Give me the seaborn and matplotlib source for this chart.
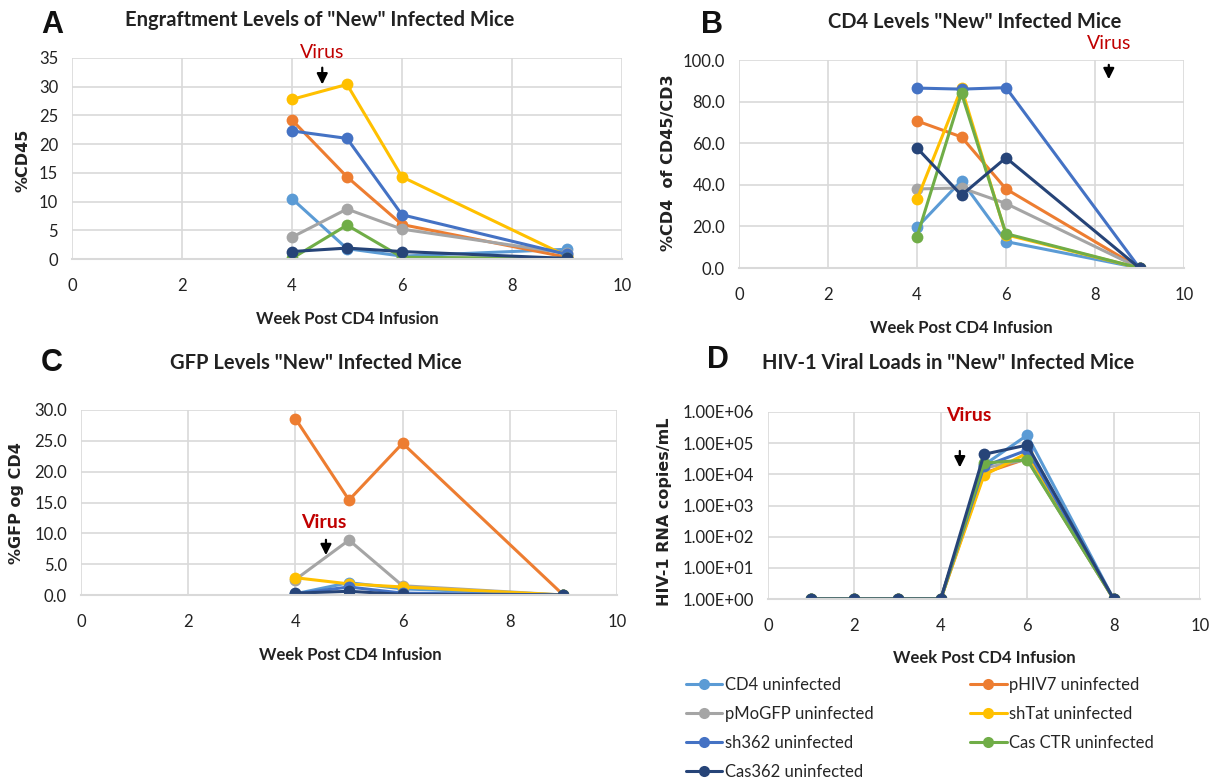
import numpy as np
import pandas as pd
import matplotlib
matplotlib.use("Agg")
import matplotlib.pyplot as plt
import seaborn as sns
from matplotlib.ticker import FuncFormatter, MultipleLocator, NullLocator
from matplotlib.lines import Line2D

sns.set_theme(style="white")
plt.rcParams["font.family"] = ["Lato", "DejaVu Sans"]

groups = ["CD4 uninfected", "pHIV7 uninfected", "pMoGFP uninfected", "shTat uninfected",
          "sh362 uninfected", "Cas CTR uninfected", "Cas362 uninfected"]
colors = ["#5B9BD5", "#ED7D31", "#A5A5A5", "#FFC000", "#4472C4", "#70AD47", "#264478"]

weeks = [4, 5, 6, 9]
cd45 = {
    "CD4 uninfected": [10.5, 1.8, 0.5, 1.7],
    "pHIV7 uninfected": [24.2, 14.3, 6.0, 0.3],
    "pMoGFP uninfected": [3.8, 8.7, 5.2, 1.0],
    "shTat uninfected": [27.8, 30.4, 14.3, 0.5],
    "sh362 uninfected": [22.3, 21.0, 7.7, 0.8],
    "Cas CTR uninfected": [0.1, 5.9, 0.3, 0.1],
    "Cas362 uninfected": [1.3, 1.9, 1.3, 0.1],
}
cd4 = {
    "CD4 uninfected": [19.5, 42.0, 12.7, 0.0],
    "pHIV7 uninfected": [70.7, 63.0, 38.0, 0.0],
    "pMoGFP uninfected": [38.0, 38.5, 31.0, 0.0],
    "shTat uninfected": [33.0, 86.5, 16.0, 0.0],
    "sh362 uninfected": [86.5, 86.0, 86.7, 0.0],
    "Cas CTR uninfected": [15.0, 84.0, 16.5, 0.0],
    "Cas362 uninfected": [57.7, 35.0, 53.0, 0.0],
}
gfp = {
    "CD4 uninfected": [0.2, 2.0, 1.0, 0.0],
    "pHIV7 uninfected": [28.6, 15.4, 24.6, 0.0],
    "pMoGFP uninfected": [2.5, 8.9, 1.5, 0.0],
    "shTat uninfected": [2.8, 1.8, 1.3, 0.0],
    "sh362 uninfected": [0.2, 1.3, 0.3, 0.0],
    "Cas CTR uninfected": [0.0, 0.0, 0.0, 0.0],
    "Cas362 uninfected": [0.3, 0.6, 0.1, 0.0],
}
vl_weeks = [1, 2, 3, 4, 5, 6, 8]
viral = {
    "CD4 uninfected": [1, 1, 1, 1, 2.0e4, 1.8e5, 1],
    "pHIV7 uninfected": [1, 1, 1, 1, 1.1e4, 3.2e4, 1],
    "pMoGFP uninfected": [1, 1, 1, 1, 1.6e4, 3.0e4, 1],
    "shTat uninfected": [1, 1, 1, 1, 9.4e3, 4.8e4, 1],
    "sh362 uninfected": [1, 1, 1, 1, 1.8e4, 6.0e4, 1],
    "Cas CTR uninfected": [1, 1, 1, 1, 2.3e4, 2.9e4, 1],
    "Cas362 uninfected": [1, 1, 1, 1, 4.4e4, 8.7e4, 1],
}


def to_long(d, x):
    rows = []
    for g in groups:
        for xi, yi in zip(x, d[g]):
            rows.append({"week": xi, "value": yi, "group": g})
    return pd.DataFrame(rows)


W, H = 1212, 778
fig = plt.figure(figsize=(W / 100, H / 100), dpi=100)
palette = dict(zip(groups, colors))
cond = ["Lato", "DejaVu Sans"]


def box(l, t, r, b):
    return [l / W, 1 - b / H, (r - l) / W, (b - t) / H]


def style(ax):
    ax.set_xlim(0, 10)
    ax.xaxis.set_major_locator(MultipleLocator(2))
    ax.grid(True, color="#D9D9D9", lw=1.2)
    for s in ["top", "right", "left"]:
        ax.spines[s].set_visible(False)
    ax.spines["bottom"].set_color("#D9D9D9")
    ax.spines["bottom"].set_linewidth(1.5)
    ax.tick_params(axis="both", length=0, labelsize=12, colors="#222222")
    ax.tick_params(axis="x", pad=14)
    ax.tick_params(axis="y", pad=10)
    ax.set_xlabel("")
    ax.set_ylabel("")


def draw(ax, d, x):
    sns.lineplot(data=to_long(d, x), x="week", y="value", hue="group", hue_order=groups,
                 palette=palette, marker="o", markersize=8.5, markeredgewidth=0,
                 linewidth=2.2, ax=ax, legend=False, sort=False)


def virus(ax, tx, ty, ax0, ay0, ay1, bold=False):
    ax.text(tx, ty, "Virus", color="#C00000", fontsize=14, ha="center", va="center",
            fontweight="bold" if bold else "normal", clip_on=False)
    ax.annotate("", xy=(ax0, ay1), xytext=(ax0, ay0),
                arrowprops=dict(arrowstyle="-|>", color="black", lw=1.6, mutation_scale=16),
                annotation_clip=False)


# Panel A
axA = fig.add_axes(box(72, 58, 622, 259))
draw(axA, cd45, weeks)
style(axA)
axA.set_ylim(0, 35)
axA.yaxis.set_major_locator(MultipleLocator(5))
virus(axA, 4.55, 35.9, 4.55, 33.8, 29.9)

# Panel B
axB = fig.add_axes(box(739, 60, 1184, 268))
draw(axB, cd4, weeks)
style(axB)
axB.set_ylim(0, 100)
axB.yaxis.set_major_locator(MultipleLocator(20))
axB.yaxis.set_major_formatter(FuncFormatter(lambda v, p: f"{v:.1f}"))
virus(axB, 8.31, 108, 8.31, 99, 89.4)

# Panel C
axC = fig.add_axes(box(81, 410, 617, 595))
draw(axC, gfp, weeks)
style(axC)
axC.set_ylim(0, 30)
axC.yaxis.set_major_locator(MultipleLocator(5))
axC.yaxis.set_major_formatter(FuncFormatter(lambda v, p: f"{v:.1f}"))
virus(axC, 4.53, 11.8, 4.57, 9.4, 6.0, bold=True)

# Panel D
axD = fig.add_axes(box(768, 412, 1200, 599))
draw(axD, viral, vl_weeks)
axD.set_yscale("log")
style(axD)
axD.set_ylim(1, 1e6)
axD.set_yticks([10 ** k for k in range(7)])
axD.yaxis.set_minor_locator(NullLocator())
axD.yaxis.set_major_formatter(FuncFormatter(lambda v, p: f"{v:.2E}"))
virus(axD, 4.65, 7.9e5, 4.44, 6.9e4, 1.35e4, bold=True)

# titles, panel letters, axis labels
for txt, x, y in [('Engraftment Levels of "New" Infected Mice', 320, 20),
                  ('CD4 Levels "New" Infected Mice', 975, 22),
                  ('GFP Levels "New" Infected Mice', 316, 363),
                  ('HIV-1 Viral Loads in "New" Infected Mice', 948, 363)]:
    fig.text(x / W, 1 - y / H, txt, ha="center", va="center", fontsize=14.5,
             fontweight="bold", family=cond, color="#222222")
for txt, x, y in [("A", 52, 25), ("B", 712, 25), ("C", 52, 363), ("D", 718, 360)]:
    fig.text(x / W, 1 - y / H, txt, ha="center", va="center", fontsize=22,
             fontweight="bold", family=["Liberation Sans", "DejaVu Sans"], color="#111111")
for x, y in [(347, 319), (961, 328), (350, 655), (984, 658)]:
    fig.text(x / W, 1 - y / H, "Week Post CD4 Infusion", ha="center", va="center",
             fontsize=12, fontweight="bold", family=cond, color="#222222")
for txt, x, y in [("%CD45", 23, 160), ("%CD4  of CD45/CD3", 669, 163),
                  ("%GFP og CD4", 17, 503), ("HIV-1 RNA copies/mL", 665, 512)]:
    fig.text(x / W, 1 - y / H, txt, ha="center", va="center", rotation=90,
             fontsize=11.5, fontweight="bold", family=["DejaVu Sans"], color="#222222")

# legend, row-wise like the reference
order = [0, 2, 4, 6, 1, 3, 5]
handles = [Line2D([], [], color=colors[i], marker="o", markersize=8, markeredgewidth=0,
                  lw=2.2) for i in order]
labels = [groups[i] for i in order]
fig.legend(handles, labels, loc="upper left", bbox_to_anchor=(679 / W, 1 - 670 / H),
           ncol=2, frameon=False, handlelength=2.2, handletextpad=0.15,
           columnspacing=5.8, labelspacing=0.78, borderaxespad=0,
           prop={"family": cond, "size": 12})

fig.savefig("out.png", dpi=100)
